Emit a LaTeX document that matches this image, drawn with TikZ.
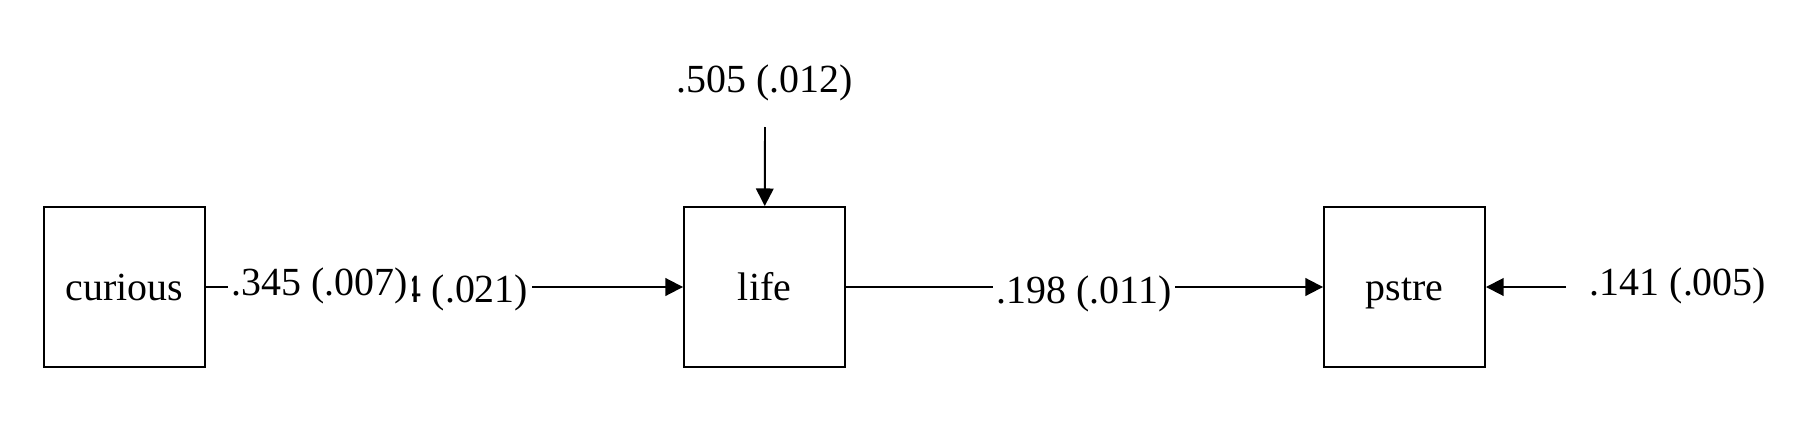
\documentclass[tikz,border=0pt]{standalone}
\usepackage{fontspec}
\setmainfont{Liberation Serif}
\usetikzlibrary{arrows.meta}
\tikzset{var/.style = {draw, line width=1.1pt, minimum width=3.22cm, minimum height=3.2cm, inner sep=0pt, text height=20.4pt, text depth=5.4pt},
  est/.style = {fill=white, inner sep=2pt},
  path/.style = {line width=1.1pt, -{Triangle[length=10pt,width=10pt]}}}

\begin{document}
\begin{tikzpicture}[x=.02cm, y=-.02cm, font=\fontsize{22.7}{27}\selectfont]
      \useasboundingbox (0,0) rectangle (1808,436);
      \node[var] (curious) at (124.5,287) {curious};
      \node[var] (life) at (764.5,287) {life};
      \node[var] (pstre) at (1404.5,287) {pstre};
      % residuals
      \node (res505) at (765,83) {.505 (.012)};
      \coordinate (top) at (765,127);
      \draw[path] (top) -- (life);
      \node (res141) at (1678,285.5) {.141 (.005)};
      \coordinate (right) at (1566,287);
      \draw[path] (right) -- (pstre);
      % paths
      \node[est, anchor=west] (p021) at (398,292.5) {4 (.021)};
      \node[est] (p345) at (320,285.5) {.345 (.007)};
      \draw[line width=1.1pt] (curious) -- (p345.west |- curious);
      \draw[path] (p021.east |- life) -- (life);
      \node[est] (p198) at (1084,293.5) {.198 (.011)};
      \draw[line width=1.1pt] (life) -- (p198.west |- life);
      \draw[path] (p198.east |- pstre) -- (pstre);
    \end{tikzpicture}
\end{document}
